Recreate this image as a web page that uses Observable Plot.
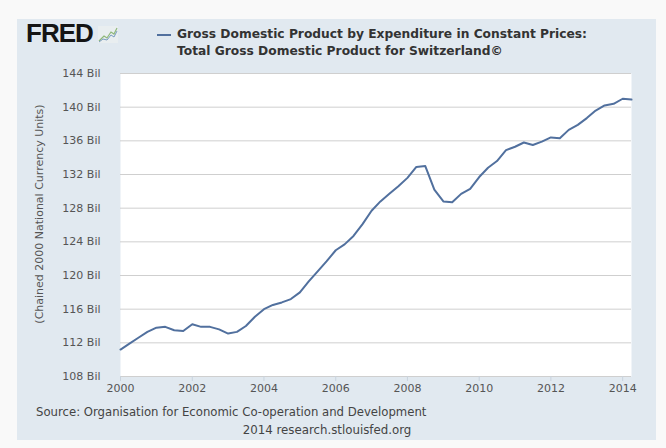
<!DOCTYPE html>
<html>
<head>
<meta charset="utf-8">
<script src="https://cdn.jsdelivr.net/npm/d3@7"></script>
<script src="https://cdn.jsdelivr.net/npm/@observablehq/plot@0.6"></script>
<style>
  html, body { margin: 0; padding: 0; }
  body { width: 666px; height: 448px; position: relative; overflow: hidden; background: #f9f9f9; font-family: "DejaVu Sans", sans-serif; }
  #panel { position: absolute; left: 17px; top: 19px; width: 639px; height: 421px; background: #e1e9f0; }
  #logo { position: absolute; left: 26px; top: 18px; font: bold 26px "Liberation Sans", Arial, sans-serif; color: #151515; letter-spacing: -1px; }
  #icon { position: absolute; left: 98px; top: 26px; }
  #swatch { position: absolute; left: 157px; top: 34px; width: 14px; height: 2px; background: #51709e; }
  #title { position: absolute; left: 177px; top: 26px; font: bold 12.25px "DejaVu Sans", sans-serif; line-height: 16.6px; color: #333; white-space: nowrap; }
  #ylabel { position: absolute; left: 38.5px; top: 214px; transform: translate(-50%, -50%) rotate(-90deg); font: 11px "DejaVu Sans", sans-serif; color: #555; white-space: nowrap; }
  #chart { position: absolute; left: 0; top: 60px; }
  #source { position: absolute; left: 36px; top: 405px; font: 11.7px "DejaVu Sans", sans-serif; color: #444; white-space: nowrap; }
  #credit { position: absolute; left: 327px; top: 423px; transform: translateX(-50%); font: 11.8px "DejaVu Sans", sans-serif; color: #444; white-space: nowrap; }
</style>
</head>
<body>
<div id="panel"></div>
<div id="logo">FRED</div>
<svg id="icon" width="20" height="17" viewBox="0 0 20 17">
  <rect x="0" y="0" width="20" height="17" fill="#e9eef0"/>
  <polyline points="1,15 6,10 9,12 13,6 16,8 19,2" fill="none" stroke="#8fb87a" stroke-width="1.2"/>
  <polyline points="1,16 5,13 9,14 13,9 16,11 19,5" fill="none" stroke="#7a9cc0" stroke-width="1"/>
</svg>
<div id="swatch"></div>
<div id="title">Gross Domestic Product by Expenditure in Constant Prices:<br>Total Gross Domestic Product for Switzerland©</div>
<div id="ylabel">(Chained 2000 National Currency Units)</div>
<div id="chart"></div>
<div id="source">Source: Organisation for Economic Co-operation and Development</div>
<div id="credit">2014 research.stlouisfed.org</div>
<script>
// Quarterly GDP, billions (2000Q1 .. 2014Q2)
const gdpValues = [
  111.2, 111.9, 112.6, 113.3,
  113.8, 113.9, 113.5, 113.4,
  114.2, 113.9, 113.9, 113.6,
  113.1, 113.3, 114.0, 115.1,
  116.0, 116.5, 116.8, 117.2,
  118.0, 119.3, 120.5, 121.7,
  123.0, 123.7, 124.7, 126.1,
  127.7, 128.8, 129.7, 130.6,
  131.6, 132.9, 133.0, 130.2,
  128.8, 128.7, 129.7, 130.3,
  131.7, 132.8, 133.6, 134.9,
  135.3, 135.8, 135.5, 135.9,
  136.4, 136.3, 137.3, 137.9,
  138.7, 139.6, 140.2, 140.4,
  141.0, 140.9
];
const firstQuarter = "2000-01-01";
const lastQuarter = "2014-04-01";
const yTicks = [108, 112, 116, 120, 124, 128, 132, 136, 140, 144];
const xTickYears = [2000, 2002, 2004, 2006, 2008, 2010, 2012, 2014];

const quarterDates = d3.utcMonth.every(3).range(new Date(firstQuarter), d3.utcDay.offset(new Date(lastQuarter), 1));
const data = quarterDates.map((date, i) => ({date, value: gdpValues[i]}));
const xTicks = xTickYears.map(y => new Date(Date.UTC(y, 0, 1)));

const chart = Plot.plot({
  width: 666,
  height: 345,
  marginLeft: 120,
  marginRight: 35,
  marginTop: 13,
  marginBottom: 29,
  style: {background: "transparent", fontFamily: "DejaVu Sans, sans-serif", fontSize: "11px", color: "#555"},
  x: {type: "utc", domain: [new Date(firstQuarter), new Date(lastQuarter)]},
  y: {domain: [108, 144]},
  marks: [
    Plot.frame({fill: "white", stroke: null}),
    Plot.gridY(yTicks, {stroke: "#cfcfcf", strokeOpacity: 1}),
    Plot.axisY(yTicks, {tickSize: 0, tickPadding: 20, tickFormat: d => d + " Bil", label: null, fill: "#555"}),
    Plot.axisX(xTicks, {tickSize: 5, tickPadding: 3, tickFormat: d3.utcFormat("%Y"), label: null, stroke: "#c9d3dd", fill: "#555"}),
    Plot.line(data, {x: "date", y: "value", stroke: "#51709e", strokeWidth: 2, curve: "linear"})
  ]
});
document.getElementById("chart").appendChild(chart);
</script>
</body>
</html>
